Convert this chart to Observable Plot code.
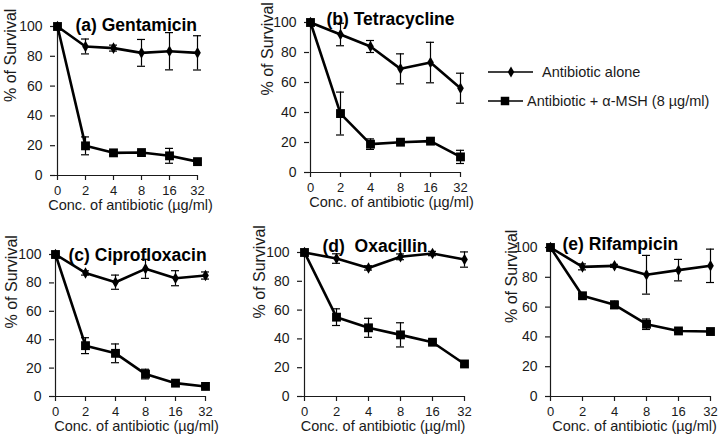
<!DOCTYPE html>
<html><head><meta charset="utf-8">
<script src="https://cdn.jsdelivr.net/npm/d3@7"></script>
<script src="https://cdn.jsdelivr.net/npm/@observablehq/plot@0.6"></script>
<style>
body{margin:0;background:#fff;}
#root{position:relative;width:727px;height:444px;overflow:hidden;font-family:"Liberation Sans",Arial,sans-serif;color:#1a1a1a;}
.panel{position:absolute;}
.panel svg{overflow:visible;}
.lg{position:absolute;font-size:14.5px;line-height:20px;height:20px;white-space:nowrap;}
.sw{position:absolute;overflow:visible;}
</style></head><body><div id="root"></div>
<script>
// ---- data ----
const concentrations = ["0", "2", "4", "8", "16", "32"];
const yTicks = [0, 20, 40, 60, 80, 100];
const seriesNames = ["Antibiotic alone", "Antibiotic + α-MSH (8 µg/ml)"];
const panelTitles = ["(a) Gentamicin", "(b) Tetracycline", "(c) Ciprofloxacin", "(d)  Oxacillin", "(e) Rifampicin"];
const yLabel = "% of Survival";
const xLabel = "Conc. of antibiotic (µg/ml)";

const gentamicinAlone    = [100, 86.6, 85.5, 82.3, 83.4, 82.3];
const gentamicinAloneErr = [0, 5, 2, 9, 12.5, 11.5];
const gentamicinMSH      = [100, 19.9, 15.2, 15.4, 13.2, 9.3];
const gentamicinMSHErr   = [0, 6, 1.5, 1, 5, 1];

const tetracyclineAlone    = [100, 92, 84, 69.1, 73.3, 56.2];
const tetracyclineAloneErr = [0, 7.5, 4, 10, 13.5, 10];
const tetracyclineMSH      = [100, 39.3, 18.9, 20.2, 20.9, 10.4];
const tetracyclineMSHErr   = [0, 14.3, 3.5, 1, 1, 4.4];

const ciprofloxacinAlone    = [100, 87, 80.5, 89.9, 83.3, 85.2];
const ciprofloxacinAloneErr = [0, 1.5, 5, 6.7, 5.3, 2.5];
const ciprofloxacinMSH      = [100, 35.8, 30.4, 15.8, 9.4, 7.1];
const ciprofloxacinMSHErr   = [0, 5.6, 6.6, 3.4, 1, 1];

const oxacillinAlone    = [100, 95.8, 89.3, 97, 99.3, 95.1];
const oxacillinAloneErr = [0, 3.3, 1.5, 2, 1.5, 5.3];
const oxacillinMSH      = [100, 55.1, 47.7, 42.8, 37.7, 22.6];
const oxacillinMSHErr   = [0, 5.8, 6.6, 8.4, 1.5, 1.5];

const rifampicinAlone    = [100, 87, 87.7, 81.7, 84.8, 87.7];
const rifampicinAloneErr = [0, 2, 1, 13, 7.2, 11.2];
const rifampicinMSH      = [100, 67.6, 61.5, 48.5, 44, 43.6];
const rifampicinMSHErr   = [0, 1.5, 2.5, 3.5, 1, 1];

const panelData = [
  [gentamicinAlone, gentamicinAloneErr, gentamicinMSH, gentamicinMSHErr],
  [tetracyclineAlone, tetracyclineAloneErr, tetracyclineMSH, tetracyclineMSHErr],
  [ciprofloxacinAlone, ciprofloxacinAloneErr, ciprofloxacinMSH, ciprofloxacinMSHErr],
  [oxacillinAlone, oxacillinAloneErr, oxacillinMSH, oxacillinMSHErr],
  [rifampicinAlone, rifampicinAloneErr, rifampicinMSH, rifampicinMSHErr]
];

// ---- layout (pixel placement of each panel's frame) ----
const ML = 54, MR = 14, MT = 28, MB = 46;
const layout = [
  {x0: 55,  x1: 198, y0: 26,  y1: 175, tdx: 20, tdy: -8,  ydx: -44.5, ydy: 1,  xdx: 3.5, xdy: 34.5},
  {x0: 309, x1: 461, y0: 22,  y1: 172, tdx: 17, tdy: -10, ydx: -42,   ydy: -2, xdx: 6,   xdy: 34.5},
  {x0: 54,  x1: 205, y0: 254, y1: 396, tdx: 14, tdy: -6,  ydx: -43,   ydy: 3,  xdx: 6.5, xdy: 34.5},
  {x0: 302, x1: 465, y0: 252, y1: 396, tdx: 20, tdy: -13, ydx: -43,   ydy: -6, xdx: -1,  xdy: 34.5},
  {x0: 550, x1: 710, y0: 247, y1: 396, tdx: 12, tdy: -10, ydx: -38.5, ydy: 1,  xdx: 4,   xdy: 34.5}
];

const root = document.getElementById("root");
const FONT = '"Liberation Sans", Arial, sans-serif';

panelData.forEach((arrs, p) => {
  const L = layout[p];
  const rows = [];
  [0, 1].forEach(s => {
    const vals = arrs[s * 2], errs = arrs[s * 2 + 1];
    concentrations.forEach((c, i) => rows.push({conc: c, series: seriesNames[s], value: vals[i], err: errs[i]}));
  });
  const errRows = rows.filter(d => d.err > 0);
  const chart = Plot.plot({
    width: (L.x1 - L.x0) + ML + MR,
    height: (L.y1 - L.y0) + MT + MB,
    marginLeft: ML, marginRight: MR, marginTop: MT, marginBottom: MB,
    style: {fontFamily: FONT, fontSize: "14px", color: "#1a1a1a", background: "transparent", overflow: "visible"},
    x: {type: "point", domain: concentrations, padding: 0, axis: null},
    y: {domain: [0, 100], axis: null},
    marks: [
      Plot.ruleY([0], {stroke: "#1a1a1a", strokeWidth: 1.2, insetLeft: -5}),
      Plot.ruleX([concentrations[0]], {stroke: "#1a1a1a", strokeWidth: 1.2}),
      Plot.axisY({ticks: yTicks, tickSize: 5, tickPadding: 8, fontSize: 14, label: null, strokeWidth: 1.2}),
      Plot.axisX({tickSize: 5, tickPadding: 5, fontSize: 13, label: null, strokeWidth: 1.2}),
      Plot.ruleX(errRows, {x: "conc", y1: d => d.value - d.err, y2: d => d.value + d.err, stroke: "#000", strokeWidth: 1.2}),
      Plot.ruleY(errRows, {x1: "conc", x2: "conc", y: d => d.value + d.err, stroke: "#000", strokeWidth: 1.2, insetLeft: -4, insetRight: -4}),
      Plot.ruleY(errRows, {x1: "conc", x2: "conc", y: d => d.value - d.err, stroke: "#000", strokeWidth: 1.2, insetLeft: -4, insetRight: -4}),
      Plot.line(rows, {x: "conc", y: "value", z: "series", stroke: "#000", strokeWidth: 2.6}),
      Plot.dot(rows.filter(d => d.series === seriesNames[0]), {x: "conc", y: "value", symbol: "diamond", r: 3.5, fill: "#000"}),
      Plot.dot(rows.filter(d => d.series === seriesNames[1]), {x: "conc", y: "value", symbol: "square", r: 5, fill: "#000"}),
      Plot.text([panelTitles[p]], {frameAnchor: "top-left", textAnchor: "start", dx: L.tdx, dy: L.tdy, fontWeight: "bold", fontSize: 17.5, fill: "#000"}),
      Plot.text([yLabel], {frameAnchor: "left", rotate: -90, dx: L.ydx, dy: L.ydy, fontSize: 16}),
      Plot.text([xLabel], {frameAnchor: "bottom", dx: L.xdx, dy: L.xdy, fontSize: 14.5})
    ]
  });
  const div = document.createElement("div");
  div.className = "panel";
  div.style.left = (L.x0 - ML) + "px";
  div.style.top = (L.y0 - MT) + "px";
  div.appendChild(chart);
  root.appendChild(div);
});

// ---- legend ----
function addLegend(idx, lineX1, lineX2, markX, y, textX, kind) {
  const ns = "http://www.w3.org/2000/svg";
  const svg = document.createElementNS(ns, "svg");
  svg.setAttribute("class", "sw");
  svg.setAttribute("width", 727); svg.setAttribute("height", 444);
  svg.style.left = "0px"; svg.style.top = "0px";
  const line = document.createElementNS(ns, "line");
  line.setAttribute("x1", lineX1); line.setAttribute("x2", lineX2);
  line.setAttribute("y1", y); line.setAttribute("y2", y);
  line.setAttribute("stroke", "#000"); line.setAttribute("stroke-width", 1.5);
  svg.appendChild(line);
  const m = document.createElementNS(ns, "path");
  const sym = kind === "diamond" ? d3.symbol(d3.symbolDiamond, 36) : d3.symbol(d3.symbolSquare, 72);
  m.setAttribute("d", sym());
  m.setAttribute("transform", `translate(${markX},${y})`);
  m.setAttribute("fill", "#000");
  svg.appendChild(m);
  root.appendChild(svg);
  const t = document.createElement("div");
  t.className = "lg";
  t.textContent = seriesNames[idx];
  t.style.left = textX + "px";
  t.style.top = (y - 10) + "px";
  root.appendChild(t);
}
addLegend(0, 488, 533, 511, 72, 542, "diamond");
addLegend(1, 488, 523, 505, 101, 527, "square");
</script></body></html>
